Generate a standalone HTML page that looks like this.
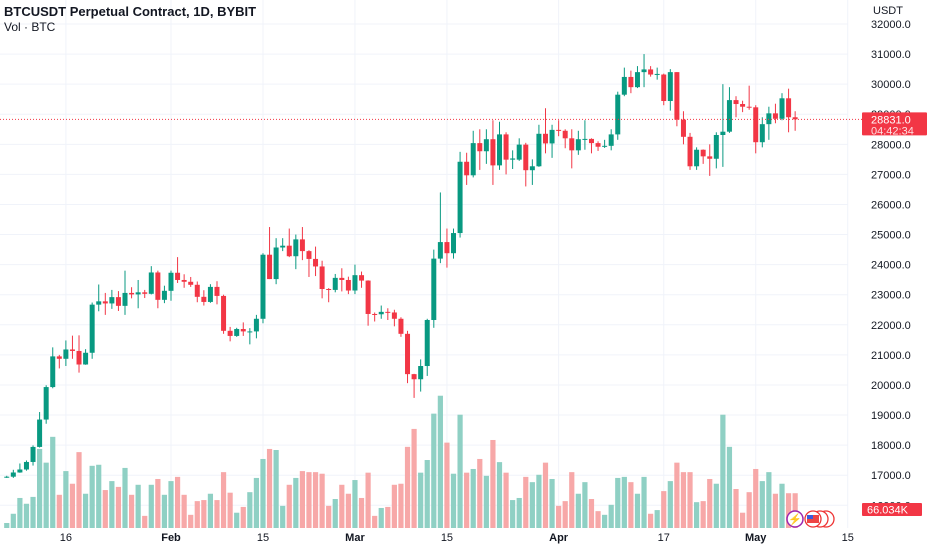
<!DOCTYPE html>
<html><head><meta charset="utf-8"><style>
body{margin:0;background:#fff;}
svg{display:block;font-family:"Liberation Sans",sans-serif;}
</style></head><body>
<svg id="chart" width="932" height="550" viewBox="0 0 932 550" xmlns="http://www.w3.org/2000/svg">
<rect x="0" y="0" width="932" height="550" fill="#ffffff"/>
<g id="grid"></g>
<g id="volumes"></g>
<g id="candles"></g>
<g id="axes"></g>
<text x="4" y="16" font-size="13" font-weight="bold" fill="#131722">BTCUSDT Perpetual Contract, 1D, BYBIT</text>
<text x="4" y="31" font-size="12" fill="#131722">Vol · BTC</text>
<text x="873" y="14" font-size="11" fill="#131722">USDT</text>
</svg>
<script>
const opens=[16950,16950,17090,17190,17440,17940,18850,19930,20950,20870,21180,21130,20680,21070,22670,22780,22710,22920,22630,23060,23010,23080,23030,23740,22830,23130,23730,23490,23430,23330,22930,22760,23260,22960,21800,21630,21860,21780,21780,22200,24330,23520,24570,24630,24280,24840,24450,24190,23940,23190,23160,23560,23490,23140,23650,23470,22360,22350,22430,22410,22200,21700,20360,20190,20630,22160,24200,24750,24380,25050,27420,26970,28040,27770,28170,27300,28330,27490,27490,27990,27140,27270,28350,28030,28480,28450,28200,27800,28170,28180,28040,27920,27950,28330,29650,30240,29900,30400,30490,30320,30320,29440,30400,28820,28250,27270,27820,27600,27520,28310,28420,29470,29340,29250,29230,28070,28670,29030,28850,29530,28900];
const highs=[16980,17180,17390,17490,17990,19100,19990,21250,21000,21480,21640,21650,21190,22740,23340,23060,23160,23120,23800,23250,23490,23160,23950,23800,23300,23800,24250,23680,23590,23440,23150,23350,23450,23000,21930,21900,22080,21890,22330,24380,25250,24880,24880,25200,25000,25250,24480,24600,24130,23220,23690,23880,23600,24000,23770,23480,22410,22640,22550,22500,22250,21800,20370,20850,22200,24500,26400,25200,25200,27750,27720,28450,28500,28500,28800,28750,28400,27800,28200,28050,27500,28650,29200,28650,28800,28500,28500,28450,28800,28200,28100,28150,28500,29750,30550,30450,30600,31000,30600,30550,30350,30500,30400,29100,28380,27900,27830,28000,28400,30000,29900,29600,29450,29950,29300,28900,29250,29350,29700,29850,29100];
const lows=[16910,16910,17080,17150,17320,17920,18710,19890,20550,20630,20870,20410,20670,20870,22450,22330,22530,22460,22330,22880,22550,22890,23010,22550,22720,22800,23390,23230,23260,22750,22640,22730,22680,21700,21450,21600,21630,21350,21550,22050,23520,23350,24450,24250,23850,24150,23590,23620,22880,22750,23080,23110,23020,23020,23230,21970,22110,22200,22160,21950,21600,20060,19570,19780,20300,21900,24050,23900,24200,24900,26650,26900,27150,27350,26650,27150,27000,27180,27450,26600,26650,27250,27700,27550,28270,27870,27200,27650,27820,27700,27780,27880,27800,28150,29600,29700,29870,29900,30250,30150,29300,29120,28600,28000,27150,27150,27350,26950,27200,27250,28380,28900,29070,29150,27700,27900,28150,28700,28800,28400,28450];
const closes=[16950,17090,17190,17440,17940,18850,19930,20950,20870,21180,21130,20680,21070,22670,22780,22710,22920,22630,23060,23010,23080,23030,23740,22830,23130,23730,23490,23430,23330,22930,22760,23260,22960,21800,21630,21860,21780,21780,22200,24330,23520,24570,24630,24280,24840,24450,24190,23940,23190,23160,23560,23490,23140,23650,23470,22360,22350,22430,22410,22200,21700,20360,20190,20630,22160,24200,24750,24380,25050,27420,26970,28040,27770,28170,27300,28330,27490,27530,27990,27140,27270,28350,28030,28480,28450,28200,27800,28170,28180,28040,27920,27950,28330,29650,30240,29900,30400,30490,30320,30340,29440,30400,28820,28250,27270,27820,27600,27520,28310,28420,29470,29340,29250,29230,28070,28670,29030,28850,29530,28900,28831];
const volumesK=[9.5,27,57,46,59,150,124,173,63,108,84,144,65,118,120,72,89,78,114,63,82,23,82,93,63,89,97,63,25,51,53,65,53,106,67,29,40,68,95,131,150,148,42,82,95,108,106,106,103,42,55,82,65,91,57,105,23,38,40,82,84,154,188,105,129,217,251,162,103,215,105,112,131,99,167,125,105,53,57,97,87,101,124,93,42,51,106,65,87,55,32,25,44,95,97,87,65,97,27,34,70,89,124,106,106,49,51,93,84,215,154,74,29,68,112,89,106,65,84,66,66];
const priceTicks=[32000,31000,30000,29000,28000,27000,26000,25000,24000,23000,22000,21000,20000,19000,18000,17000,16000];
const dateTickLabels=["16","Feb","15","Mar","15","Apr","17","May","15"];
const dateTickDays=[9,25,39,53,67,84,100,114,128];
const lastPrice=28831.0;
const lastVolumeK=66.034;

const NS="http://www.w3.org/2000/svg";
const xOf=i=>6.75+i*6.57;
const yOf=p=>24+(32000-p)*0.03008;
const vBase=528, vScale=0.527;
const yVol=v=>vBase-v*vScale;
function mk(tag,attrs,parent){const e=document.createElementNS(NS,tag);for(const k in attrs)e.setAttribute(k,attrs[k]);parent.appendChild(e);return e;}
const grid=document.getElementById('grid'),volG=document.getElementById('volumes'),cG=document.getElementById('candles'),ax=document.getElementById('axes');
const G="#089981",R="#f23645";

priceTicks.forEach(p=>{
  const l=mk('line',{x1:0,x2:848,y1:yOf(p),y2:yOf(p),stroke:'#f0f3fa','stroke-width':1},grid);
  
  
  const t=mk('text',{x:871,y:yOf(p)+4,'font-size':11,fill:'#131722'},ax);
  t.textContent=p.toFixed(1);
  
  
});
dateTickDays.forEach((d,k)=>{
  const x=xOf(d);
  const l=mk('line',{x1:x,x2:x,y1:0,y2:528,stroke:'#f0f3fa','stroke-width':1},grid);
  
  
  const t=mk('text',{x:x,y:541,'font-size':11,fill:'#131722','text-anchor':'middle','font-weight':dateTickLabels[k].length>2?'bold':'normal'},ax);
  t.textContent=dateTickLabels[k];
  
  
});

volumesK.forEach((v,i)=>{
  const up=closes[i]>=opens[i];
  const r=mk('rect',{x:xOf(i)-2.6,y:yVol(v),width:5.2,height:v*vScale,fill:up?'#8fd0c4':'#f7a8a8'},volG);
  
  
});

closes.forEach((c,i)=>{
  const o=opens[i],up=c>=o,col=up?G:R,x=xOf(i);
  const w=mk('line',{x1:x,x2:x,y1:yOf(highs[i]),y2:yOf(lows[i]),stroke:col,'stroke-width':1},cG);
  
  
  const top=yOf(Math.max(o,c)),h=Math.max(1,Math.abs(yOf(o)-yOf(c)));
  const b=mk('rect',{x:x-2.5,y:top,width:5,height:h,fill:col},cG);
  
  
});

// last price line and tag
const ly=yOf(lastPrice);
const pl=mk('line',{x1:0,x2:862,y1:ly,y2:ly,stroke:R,'stroke-width':1,'stroke-dasharray':'1 2'},ax);


const tag=mk('rect',{x:862,y:ly-7,width:65,height:23,fill:R,rx:1},ax);


const t1=mk('text',{x:871,y:ly+4,'font-size':11,fill:'#fff'},ax);t1.textContent=lastPrice.toFixed(1);


const t2=mk('text',{x:871,y:ly+15,'font-size':11,fill:'#fde0e2'},ax);t2.textContent="04:42:34";


const vt=mk('rect',{x:862,y:503,width:60,height:13,fill:R,rx:1},ax);


const vtt=mk('text',{x:867,y:513.5,'font-size':11,fill:'#fff'},ax);vtt.textContent=lastVolumeK.toFixed(3)+"K";



// event icons
const ic=mk('g',{},ax);


[[826,'#e33'],[820,'#e33'],[813,'#e33']].forEach(([cx,c])=>{mk('circle',{cx:cx,cy:519,r:8,fill:'#fff',stroke:c,'stroke-width':1.3},ic);});
mk('rect',{x:807,y:515,width:12,height:8,fill:'#e44'},ic);
mk('rect',{x:807,y:515,width:6,height:4,fill:'#3b5bdb'},ic);
mk('circle',{cx:795,cy:519,r:8,fill:'#fff',stroke:'#9c27b0','stroke-width':1.5},ic);
const bolt=mk('text',{x:795,y:523,'font-size':11,fill:'#9c27b0','text-anchor':'middle'},ic);bolt.textContent="⚡";
</script>
</body></html>
